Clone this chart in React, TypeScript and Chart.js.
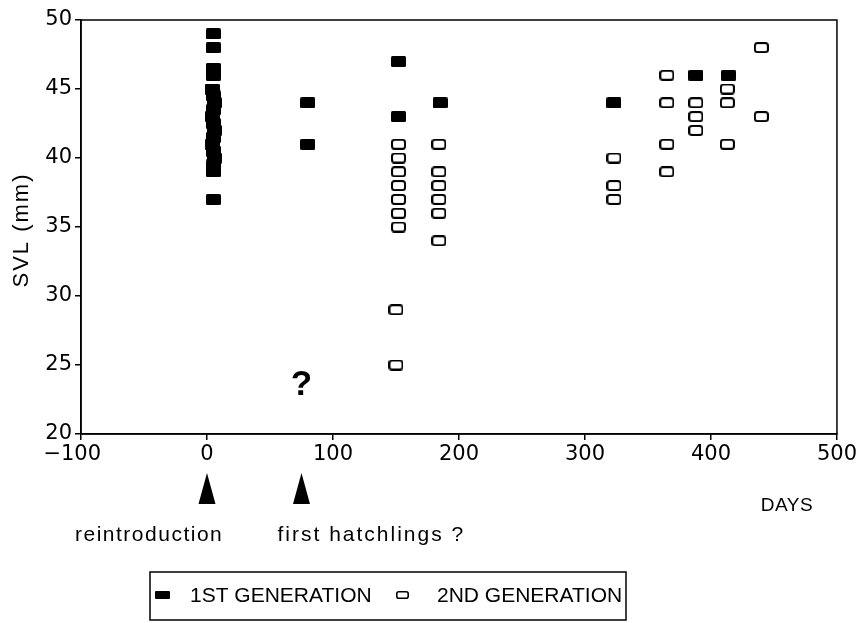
import React, { useEffect, useRef } from 'react';
import { Chart, registerables } from 'chart.js';

Chart.register(...registerables);

// ---- data ----
const gen1Days = [5, 5, 5, 5, 4, 5, 6, 5, 4, 5, 6, 5, 4, 5, 6, 5, 5, 5, 80, 80, 152, 152, 185, 323, 388, 414];
const gen1Svl = [49, 48, 46.5, 46, 45, 44.5, 44, 43.5, 43, 42.5, 42, 41.5, 41, 40.5, 40, 39.5, 39, 37, 44, 41, 47, 43, 44, 44, 46, 46];

const gen2Days = [
  150, 150, 152, 152, 152, 152, 152, 152, 152,
  184, 184, 184, 184, 184, 184,
  323, 323, 323,
  365, 365, 365, 365,
  388, 388, 388,
  413, 413, 413,
  440, 440,
];
const gen2Svl = [
  25, 29, 35, 36, 37, 38, 39, 40, 41,
  34, 36, 37, 38, 39, 41,
  37, 38, 40,
  39, 41, 44, 46,
  42, 43, 44,
  41, 44, 45,
  43, 48,
];

const xTicks = [-100, 0, 100, 200, 300, 400, 500];
const yTicks = [20, 25, 30, 35, 40, 45, 50];
const arrowDays = [0, 75];
const arrowLabels = ['reintroduction', 'first hatchlings ?'];
const seriesNames = ['1ST GENERATION', '2ND GENERATION'];
const questionMark = { day: 75, svl: 23.55, text: '?' };
const xTitle = 'DAYS';
const yTitle = 'SVL (mm)';

const FONT = "'Liberation Sans', Arial, Helvetica, sans-serif";
const TICK_FONT = "'DejaVu Sans', 'Liberation Sans', sans-serif";

function makeMarker(w: number, h: number, filled: boolean, lw: number, r: number) {
  const c = document.createElement('canvas');
  c.width = w;
  c.height = h;
  const ctx = c.getContext('2d')!;
  ctx.beginPath();
  if (filled) {
    ctx.roundRect(0, 0, w, h, r);
    ctx.fillStyle = '#000';
    ctx.fill();
  } else {
    ctx.roundRect(lw / 2, lw / 2, w - lw, h - lw, r);
    ctx.fillStyle = '#fff';
    ctx.fill();
    ctx.lineWidth = lw;
    ctx.strokeStyle = '#000';
    ctx.stroke();
  }
  return c;
}

export default function App() {
  const ref = useRef<HTMLCanvasElement | null>(null);

  useEffect(() => {
    const canvas = ref.current!;
    const filledMarker = makeMarker(15, 11, true, 0, 1.5);
    const openMarker = makeMarker(15, 11, false, 2, 2.5);
    const legendFilled = makeMarker(15, 8, true, 0, 1);
    const legendOpen = makeMarker(13, 8, false, 1.6, 2);

    const decor = {
      id: 'decor',
      afterDraw(chart: any) {
        const ctx = chart.ctx as CanvasRenderingContext2D;
        const a = chart.chartArea;
        const xs = chart.scales.x;
        const ys = chart.scales.y;
        ctx.save();
        // frame
        ctx.strokeStyle = '#000';
        ctx.lineWidth = 1.5;
        ctx.strokeRect(a.left, a.top, a.right - a.left, a.bottom - a.top);

        // question mark
        ctx.fillStyle = '#000';
        ctx.font = `bold 35px ${FONT}`;
        ctx.textAlign = 'center';
        ctx.textBaseline = 'middle';
        ctx.fillText(questionMark.text, xs.getPixelForValue(questionMark.day), ys.getPixelForValue(questionMark.svl));

        // y title
        ctx.save();
        ctx.translate(22, 230);
        ctx.rotate(-Math.PI / 2);
        ctx.font = `22px ${FONT}`;
        (ctx as any).letterSpacing = '2px';
        ctx.textAlign = 'center';
        ctx.textBaseline = 'middle';
        ctx.fillText(yTitle, 0, 0);
        ctx.restore();

        // x title
        ctx.font = `19px ${FONT}`;
        (ctx as any).letterSpacing = '0.5px';
        ctx.textAlign = 'center';
        ctx.textBaseline = 'middle';
        ctx.fillText(xTitle, 787, 506);

        // arrows + labels
        const offsets = [-132, -24];
        const spacing = ['1.5px', '2px'];
        arrowDays.forEach((d, i) => {
          const px = xs.getPixelForValue(d);
          ctx.beginPath();
          ctx.moveTo(px, 473);
          ctx.lineTo(px + 8.5, 504);
          ctx.lineTo(px - 8.5, 504);
          ctx.closePath();
          ctx.fill();
          ctx.font = `21px ${FONT}`;
          (ctx as any).letterSpacing = spacing[i];
          ctx.textAlign = 'left';
          ctx.textBaseline = 'middle';
          ctx.fillText(arrowLabels[i], px + offsets[i], 535);
        });

        // legend
        (ctx as any).letterSpacing = '0px';
        ctx.lineWidth = 1.5;
        ctx.strokeRect(150, 572, 476, 48);
        ctx.drawImage(legendFilled, 155, 591);
        ctx.drawImage(legendOpen, 396, 591);
        ctx.font = `21px ${FONT}`;
        ctx.textAlign = 'left';
        ctx.textBaseline = 'middle';
        ctx.fillText(seriesNames[0], 190, 596);
        ctx.fillText(seriesNames[1], 437, 596);
        ctx.restore();
      },
    };

    const tickFont = { family: TICK_FONT, size: 21 };

    const chart = new Chart(canvas, {
      type: 'scatter',
      data: {
        datasets: [
          {
            label: seriesNames[0],
            data: gen1Days.map((d, i) => ({ x: d, y: gen1Svl[i] })),
            pointStyle: filledMarker as any,
            pointRadius: 7,
            backgroundColor: '#000',
            borderColor: '#000',
          },
          {
            label: seriesNames[1],
            data: gen2Days.map((d, i) => ({ x: d, y: gen2Svl[i] })),
            pointStyle: openMarker as any,
            pointRadius: 7,
            backgroundColor: '#fff',
            borderColor: '#000',
          },
        ],
      },
      options: {
        responsive: false,
        animation: false,
        devicePixelRatio: 1,
        layout: { padding: { top: 20, right: 19, left: 0, bottom: 0 } },
        plugins: { legend: { display: false }, tooltip: { enabled: false } },
        scales: {
          x: {
            type: 'linear',
            min: -100,
            max: 500,
            afterBuildTicks: (s: any) => {
              s.ticks = xTicks.map((v) => ({ value: v }));
            },
            afterFit: (s: any) => {
              s.height = 623 - 434;
            },
            ticks: {
              color: '#000',
              font: tickFont,
              padding: 2,
              maxRotation: 0,
              callback: (v: any) =>
                Number(v) < 0 ? '\u2212' + Math.abs(Number(v)) + '\u2007\u2009' : String(v),
            },
            grid: { drawOnChartArea: false, tickLength: 6, color: '#000', lineWidth: 1.5 },
            border: { color: '#000', width: 1.5 },
          },
          y: {
            type: 'linear',
            min: 20,
            max: 50,
            afterBuildTicks: (s: any) => {
              s.ticks = yTicks.map((v) => ({ value: v }));
            },
            afterFit: (s: any) => {
              s.width = 81;
            },
            ticks: { color: '#000', font: tickFont, padding: 3 },
            grid: { drawOnChartArea: false, tickLength: 6, color: '#000', lineWidth: 1.5 },
            border: { color: '#000', width: 1.5 },
          },
        },
      },
      plugins: [decor],
    } as any);

    return () => chart.destroy();
  }, []);

  return (
    <div style={{ position: 'absolute', left: 0, top: 0, width: 859, height: 623, background: '#fff' }}>
      <canvas ref={ref} width={859} height={623} style={{ display: 'block', width: 859, height: 623 }} />
    </div>
  );
}
